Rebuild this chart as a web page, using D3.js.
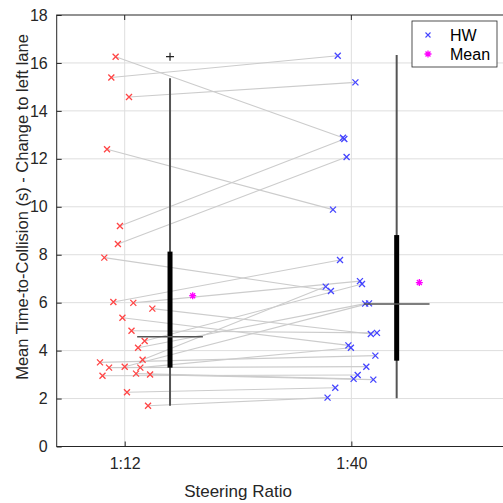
<!DOCTYPE html>
<html>
<head>
<meta charset="utf-8">
<script src="https://cdn.jsdelivr.net/npm/d3@7"></script>
<style>
  html, body { margin: 0; padding: 0; background: #fff; }
  svg { display: block; font-family: "Liberation Sans", Arial, sans-serif; }
</style>
</head>
<body>
<div id="chart"></div>
<script>
// steering ratio groups
const groups = ["1:12", "1:40"];
const yTicks = [0, 2, 4, 6, 8, 10, 12, 14, 16, 18];

// paired TTC values, one entry per driver (1:12 then its 1:40 partner)
const ttc12 = [16.26, 15.39, 14.58, 12.40, 9.20, 8.45, 7.88, 6.03, 5.99, 5.75, 5.37, 4.83,
               4.40, 4.12, 3.62, 3.51, 3.29, 3.33, 3.29, 3.04, 3.00, 2.95, 2.26, 1.70];
const jit12 = [0.960, 0.941, 1.019, 0.922, 0.979, 0.970, 0.910, 0.950, 1.038, 1.122, 0.990, 1.030,
               1.088, 1.059, 1.079, 0.891, 0.931, 1.000, 1.069, 1.050, 1.112, 0.902, 1.010, 1.103];
const ttc40 = [12.88, 16.30, 15.19, 9.88, 12.83, 12.08, 6.49, 7.78, 6.90, 4.69, 4.22, 4.74,
               6.78, 5.96, 6.67, 3.79, 3.33, 5.97, 4.12, 2.82, 2.79, 2.98, 2.45, 2.04];
const jit40 = [1.963, 1.940, 2.018, 1.919, 1.969, 1.979, 1.910, 1.950, 2.038, 2.086, 1.987, 2.113,
               2.047, 2.061, 1.887, 2.106, 2.066, 2.078, 1.998, 2.010, 2.097, 2.028, 1.929, 1.895];

// box plot stats
const boxPos = [1.2, 2.2];
const boxQ1 = [3.29, 3.58];
const boxMed = [4.58, 5.94];
const boxQ3 = [8.13, 8.82];
const whiskLo = [1.70, 2.01];
const whiskHi = [15.36, 16.33];
const outliers = [[16.26], []];

const meanPos = [1.3, 2.3];
const means = [6.29, 6.84];

const width = 503;
const height = 503;

const svg = d3.select("#chart").append("svg")
  .attr("width", width)
  .attr("height", height);

const x = d3.scaleLinear().domain([0.7, 2.7]).range([56.7, 510]);
const y = d3.scaleLinear().domain([0, 18]).range([446.5, 15]);

const plot = svg.append("g");

// grid
plot.append("g").selectAll("line")
  .data(yTicks.slice(1, -1))
  .join("line")
  .attr("x1", x(0.7)).attr("x2", x(2.7))
  .attr("y1", d => y(d)).attr("y2", d => y(d))
  .attr("stroke", "#dedede").attr("stroke-width", 1);

plot.append("g").selectAll("line")
  .data([1, 2])
  .join("line")
  .attr("x1", d => x(d)).attr("x2", d => x(d))
  .attr("y1", y(0)).attr("y2", y(18))
  .attr("stroke", "#dedede").attr("stroke-width", 1);

// pair lines
const pairs = ttc12.map((v, i) => ({ a: v, xa: jit12[i], b: ttc40[i], xb: jit40[i] }));

plot.append("g").selectAll("line")
  .data(pairs)
  .join("line")
  .attr("x1", d => x(d.xa)).attr("y1", d => y(d.a))
  .attr("x2", d => x(d.xb)).attr("y2", d => y(d.b))
  .attr("stroke", "#cccccc").attr("stroke-width", 1.1);

// x markers
const cross = (s) => `M${-s},${-s}L${s},${s}M${-s},${s}L${s},${-s}`;

plot.append("g").selectAll("path")
  .data(pairs)
  .join("path")
  .attr("transform", d => `translate(${x(d.xa)},${y(d.a)})`)
  .attr("d", cross(3))
  .attr("stroke", "#ff4545").attr("stroke-width", 1.3).attr("fill", "none");

plot.append("g").selectAll("path")
  .data(pairs)
  .join("path")
  .attr("transform", d => `translate(${x(d.xb)},${y(d.b)})`)
  .attr("d", cross(3))
  .attr("stroke", "#4545ff").attr("stroke-width", 1.3).attr("fill", "none");

// box plots
const boxes = boxPos.map((p, i) => ({
  p, q1: boxQ1[i], med: boxMed[i], q3: boxQ3[i], lo: whiskLo[i], hi: whiskHi[i], out: outliers[i]
}));

const bg = plot.append("g").selectAll("g").data(boxes).join("g");

bg.append("line")
  .attr("x1", d => x(d.p)).attr("x2", d => x(d.p))
  .attr("y1", d => y(d.lo)).attr("y2", d => y(d.hi))
  .attr("stroke", "#555").attr("stroke-width", 2);

bg.append("line")
  .attr("x1", d => x(d.p)).attr("x2", d => x(d.p))
  .attr("y1", d => y(d.q1)).attr("y2", d => y(d.q3))
  .attr("stroke", "#000").attr("stroke-width", 5);

bg.append("line")
  .attr("x1", d => x(d.p - 0.145)).attr("x2", d => x(d.p + 0.145))
  .attr("y1", d => y(d.med)).attr("y2", d => y(d.med))
  .attr("stroke", "#555").attr("stroke-width", 1.5);

bg.selectAll("path")
  .data(d => d.out.map(v => ({ p: d.p, v })))
  .join("path")
  .attr("transform", d => `translate(${x(d.p)},${y(d.v)})`)
  .attr("d", "M-4,0L4,0M0,-4L0,4")
  .attr("stroke", "#222").attr("stroke-width", 1.2);

// means
const star = (s) => {
  const t = s * 0.707;
  return `M${-s},0L${s},0M0,${-s}L0,${s}M${-t},${-t}L${t},${t}M${-t},${t}L${t},${-t}`;
};

plot.append("g").selectAll("path")
  .data(means.map((v, i) => ({ v, p: meanPos[i] })))
  .join("path")
  .attr("transform", d => `translate(${x(d.p)},${y(d.v)})`)
  .attr("d", star(3.5))
  .attr("stroke", "#ff00ff").attr("stroke-width", 1.3);

// axes box
const ax = svg.append("g");
ax.append("rect")
  .attr("x", x(0.7)).attr("y", y(18))
  .attr("width", x(2.7) - x(0.7)).attr("height", y(0) - y(18))
  .attr("fill", "none").attr("stroke", "#262626").attr("stroke-width", 1);

const yAxis = d3.axisLeft(y).tickValues(yTicks).tickSizeInner(-5).tickSizeOuter(0).tickPadding(9);
ax.append("g")
  .attr("transform", `translate(${x(0.7)},0)`)
  .call(yAxis)
  .call(g => g.select(".domain").remove())
  .call(g => g.selectAll("line").attr("stroke", "#262626"))
  .call(g => g.selectAll("text").attr("fill", "#262626").style("font-size", "16px").style("font-family", "Liberation Sans, Arial, sans-serif"));

const xAxis = d3.axisBottom(x).tickValues([1, 2]).tickFormat((d, i) => groups[i])
  .tickSizeInner(-5).tickSizeOuter(0).tickPadding(11);
ax.append("g")
  .attr("transform", `translate(0,${y(0)})`)
  .call(xAxis)
  .call(g => g.select(".domain").remove())
  .call(g => g.selectAll("line").attr("stroke", "#262626"))
  .call(g => g.selectAll("text").attr("fill", "#262626").style("font-size", "16px").style("font-family", "Liberation Sans, Arial, sans-serif"));

// top ticks
ax.append("g").selectAll("line")
  .data([1, 2])
  .join("line")
  .attr("x1", d => x(d)).attr("x2", d => x(d))
  .attr("y1", y(18)).attr("y2", y(18) + 5)
  .attr("stroke", "#262626");

// labels
svg.append("text")
  .attr("x", x(1.5)).attr("y", 497)
  .attr("text-anchor", "middle")
  .attr("fill", "#262626")
  .style("font-size", "17px")
  .text("Steering Ratio");

svg.append("text")
  .attr("transform", `translate(28,207) rotate(-90)`)
  .attr("text-anchor", "middle")
  .attr("fill", "#262626")
  .style("font-size", "16.5px")
  .text("Mean Time-to-Collision (s) - Change to left lane");

// legend
const lg = svg.append("g").attr("transform", "translate(412,21)");
lg.append("rect")
  .attr("width", 85).attr("height", 46)
  .attr("fill", "#fff").attr("stroke", "#262626").attr("stroke-width", 0.8);

lg.append("path")
  .attr("transform", "translate(16,14)")
  .attr("d", cross(2.5))
  .attr("stroke", "#4545ff").attr("stroke-width", 1.1);
lg.append("text").attr("x", 38).attr("y", 20)
  .attr("fill", "#000").style("font-size", "16px").text("HW");

lg.append("path")
  .attr("transform", "translate(16,33)")
  .attr("d", star(3.5))
  .attr("stroke", "#ff00ff").attr("stroke-width", 1.3);
lg.append("text").attr("x", 38).attr("y", 39)
  .attr("fill", "#000").style("font-size", "16px").text("Mean");
</script>
</body>
</html>
